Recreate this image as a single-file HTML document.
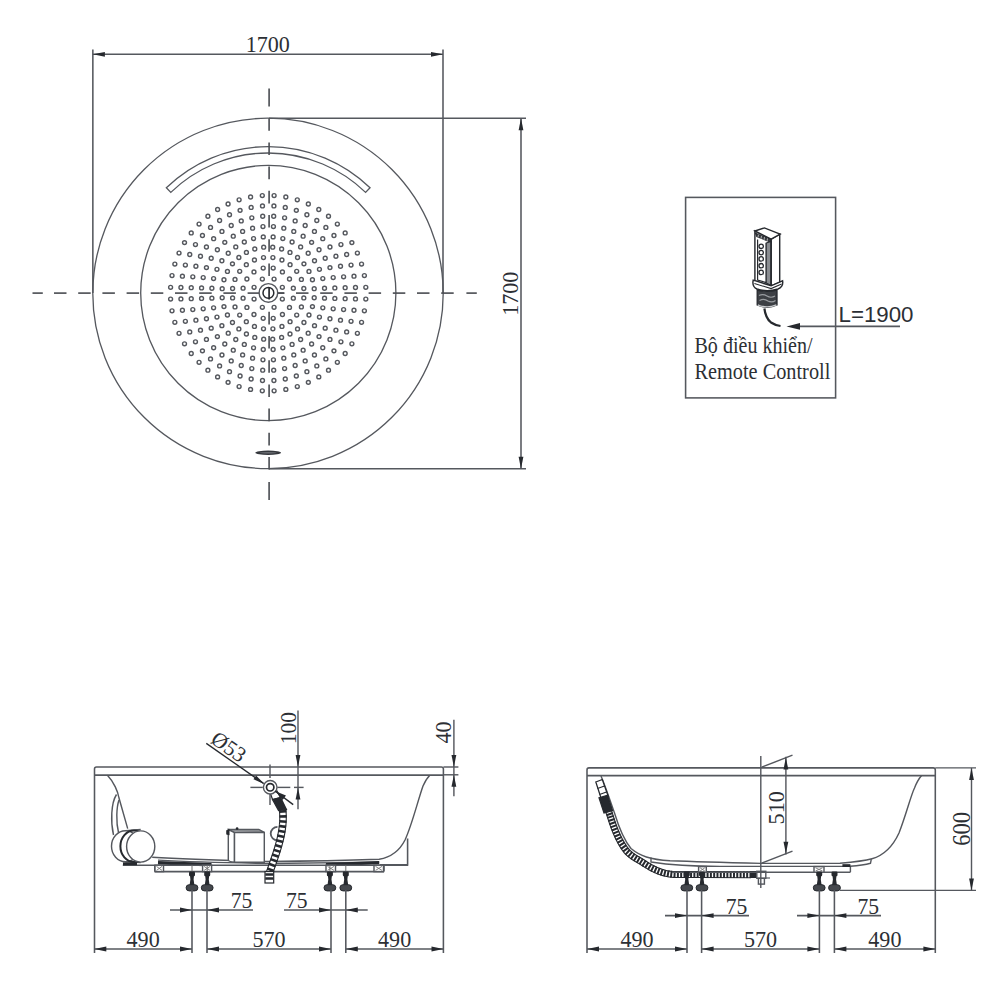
<!DOCTYPE html>
<html><head><meta charset="utf-8"><style>
html,body{margin:0;padding:0;background:#fff;}
svg{display:block;}
</style></head><body>
<svg width="1000" height="1000" viewBox="0 0 1000 1000">
<rect width="1000" height="1000" fill="#fff"/>
<line x1="92.85" y1="49.50" x2="92.85" y2="293.00" stroke="#55585e" stroke-width="1.56"/>
<line x1="443.00" y1="49.50" x2="443.00" y2="293.00" stroke="#55585e" stroke-width="1.56"/>
<line x1="92.85" y1="54.30" x2="443.00" y2="54.30" stroke="#55585e" stroke-width="1.56"/>
<polygon points="92.85,54.30 104.85,51.90 104.85,56.70" fill="#26292e"/>
<polygon points="443.00,54.30 431.00,56.70 431.00,51.90" fill="#26292e"/>
<text x="267.80" y="52.00" font-family="&quot;Liberation Serif&quot;, serif" font-size="23.19" text-anchor="middle" fill="#2c2f34" textLength="44.15" lengthAdjust="spacingAndGlyphs">1700</text>
<line x1="269.00" y1="118.20" x2="526.00" y2="118.20" stroke="#55585e" stroke-width="1.56"/>
<line x1="269.00" y1="468.80" x2="526.00" y2="468.80" stroke="#55585e" stroke-width="1.56"/>
<line x1="521.00" y1="118.20" x2="521.00" y2="468.80" stroke="#55585e" stroke-width="1.56"/>
<polygon points="521.00,118.20 523.40,130.20 518.60,130.20" fill="#26292e"/>
<polygon points="521.00,468.80 518.60,456.80 523.40,456.80" fill="#26292e"/>
<text x="517.70" y="293.80" font-family="&quot;Liberation Serif&quot;, serif" font-size="23.18" text-anchor="middle" fill="#2c2f34" textLength="44.1" lengthAdjust="spacingAndGlyphs" transform="rotate(-90 517.70 293.80)">1700</text>
<circle cx="268.0" cy="293.4" r="175.2" fill="none" stroke="#55585e" stroke-width="1.32"/>
<circle cx="268.3" cy="293.0" r="127.6" fill="none" stroke="#55585e" stroke-width="1.32"/>
<path d="M166.36,187.74 A146.6,146.6 0 0 1 370.04,187.74 L365.59,192.35 A140.2,140.2 0 0 0 170.81,192.35 Z" stroke="#55585e" stroke-width="1.32" fill="none"/>
<line x1="32.50" y1="293.10" x2="42.80" y2="293.10" stroke="#4b4e53" stroke-width="1.62"/>
<line x1="54.00" y1="293.10" x2="66.50" y2="293.10" stroke="#4b4e53" stroke-width="1.62"/>
<line x1="78.20" y1="293.10" x2="90.70" y2="293.10" stroke="#4b4e53" stroke-width="1.62"/>
<line x1="102.40" y1="293.10" x2="114.90" y2="293.10" stroke="#4b4e53" stroke-width="1.62"/>
<line x1="126.60" y1="293.10" x2="139.10" y2="293.10" stroke="#4b4e53" stroke-width="1.62"/>
<line x1="150.80" y1="293.10" x2="163.30" y2="293.10" stroke="#4b4e53" stroke-width="1.62"/>
<line x1="175.00" y1="293.10" x2="187.50" y2="293.10" stroke="#4b4e53" stroke-width="1.62"/>
<line x1="199.20" y1="293.10" x2="211.70" y2="293.10" stroke="#4b4e53" stroke-width="1.62"/>
<line x1="223.40" y1="293.10" x2="235.90" y2="293.10" stroke="#4b4e53" stroke-width="1.62"/>
<line x1="247.60" y1="293.10" x2="260.10" y2="293.10" stroke="#4b4e53" stroke-width="1.62"/>
<line x1="271.80" y1="293.10" x2="284.30" y2="293.10" stroke="#4b4e53" stroke-width="1.62"/>
<line x1="296.00" y1="293.10" x2="308.50" y2="293.10" stroke="#4b4e53" stroke-width="1.62"/>
<line x1="320.20" y1="293.10" x2="332.70" y2="293.10" stroke="#4b4e53" stroke-width="1.62"/>
<line x1="344.40" y1="293.10" x2="356.90" y2="293.10" stroke="#4b4e53" stroke-width="1.62"/>
<line x1="368.60" y1="293.10" x2="381.10" y2="293.10" stroke="#4b4e53" stroke-width="1.62"/>
<line x1="392.80" y1="293.10" x2="405.30" y2="293.10" stroke="#4b4e53" stroke-width="1.62"/>
<line x1="417.00" y1="293.10" x2="429.50" y2="293.10" stroke="#4b4e53" stroke-width="1.62"/>
<line x1="441.20" y1="293.10" x2="453.70" y2="293.10" stroke="#4b4e53" stroke-width="1.62"/>
<line x1="466.40" y1="293.10" x2="476.80" y2="293.10" stroke="#4b4e53" stroke-width="1.62"/>
<line x1="269.10" y1="88.40" x2="269.10" y2="106.60" stroke="#4b4e53" stroke-width="1.62"/>
<line x1="269.10" y1="118.20" x2="269.10" y2="130.80" stroke="#4b4e53" stroke-width="1.62"/>
<line x1="269.10" y1="142.40" x2="269.10" y2="155.00" stroke="#4b4e53" stroke-width="1.62"/>
<line x1="269.10" y1="166.60" x2="269.10" y2="179.20" stroke="#4b4e53" stroke-width="1.62"/>
<line x1="269.10" y1="190.80" x2="269.10" y2="203.40" stroke="#4b4e53" stroke-width="1.62"/>
<line x1="269.10" y1="215.00" x2="269.10" y2="227.60" stroke="#4b4e53" stroke-width="1.62"/>
<line x1="269.10" y1="239.20" x2="269.10" y2="251.80" stroke="#4b4e53" stroke-width="1.62"/>
<line x1="269.10" y1="263.40" x2="269.10" y2="276.00" stroke="#4b4e53" stroke-width="1.62"/>
<line x1="269.10" y1="287.60" x2="269.10" y2="300.20" stroke="#4b4e53" stroke-width="1.62"/>
<line x1="269.10" y1="311.80" x2="269.10" y2="324.40" stroke="#4b4e53" stroke-width="1.62"/>
<line x1="269.10" y1="336.00" x2="269.10" y2="348.60" stroke="#4b4e53" stroke-width="1.62"/>
<line x1="269.10" y1="360.20" x2="269.10" y2="372.80" stroke="#4b4e53" stroke-width="1.62"/>
<line x1="269.10" y1="384.40" x2="269.10" y2="397.00" stroke="#4b4e53" stroke-width="1.62"/>
<line x1="269.10" y1="408.60" x2="269.10" y2="421.20" stroke="#4b4e53" stroke-width="1.62"/>
<line x1="269.10" y1="432.80" x2="269.10" y2="445.40" stroke="#4b4e53" stroke-width="1.62"/>
<line x1="269.10" y1="457.00" x2="269.10" y2="469.60" stroke="#4b4e53" stroke-width="1.62"/>
<line x1="269.10" y1="482.00" x2="269.10" y2="500.00" stroke="#4b4e53" stroke-width="1.62"/>
<g fill="none" stroke="#55585e" stroke-width="1.43"><circle cx="274.06" cy="279.06" r="1.95"/><circle cx="282.34" cy="287.34" r="1.95"/><circle cx="282.34" cy="299.06" r="1.95"/><circle cx="274.06" cy="307.34" r="1.95"/><circle cx="262.34" cy="307.34" r="1.95"/><circle cx="254.06" cy="299.06" r="1.95"/><circle cx="254.06" cy="287.34" r="1.95"/><circle cx="262.34" cy="279.06" r="1.95"/><circle cx="273.20" cy="268.08" r="1.95"/><circle cx="282.43" cy="271.91" r="1.95"/><circle cx="289.49" cy="278.97" r="1.95"/><circle cx="293.32" cy="288.20" r="1.95"/><circle cx="293.32" cy="298.20" r="1.95"/><circle cx="289.49" cy="307.43" r="1.95"/><circle cx="282.43" cy="314.49" r="1.95"/><circle cx="273.20" cy="318.32" r="1.95"/><circle cx="263.20" cy="318.32" r="1.95"/><circle cx="253.97" cy="314.49" r="1.95"/><circle cx="246.91" cy="307.43" r="1.95"/><circle cx="243.08" cy="298.20" r="1.95"/><circle cx="243.08" cy="288.20" r="1.95"/><circle cx="246.91" cy="278.97" r="1.95"/><circle cx="253.97" cy="271.91" r="1.95"/><circle cx="263.20" cy="268.08" r="1.95"/><circle cx="272.89" cy="257.59" r="1.95"/><circle cx="281.95" cy="260.01" r="1.95"/><circle cx="290.07" cy="264.70" r="1.95"/><circle cx="296.70" cy="271.33" r="1.95"/><circle cx="301.39" cy="279.45" r="1.95"/><circle cx="303.81" cy="288.51" r="1.95"/><circle cx="303.81" cy="297.89" r="1.95"/><circle cx="301.39" cy="306.95" r="1.95"/><circle cx="296.70" cy="315.07" r="1.95"/><circle cx="290.07" cy="321.70" r="1.95"/><circle cx="281.95" cy="326.39" r="1.95"/><circle cx="272.89" cy="328.81" r="1.95"/><circle cx="263.51" cy="328.81" r="1.95"/><circle cx="254.45" cy="326.39" r="1.95"/><circle cx="246.33" cy="321.70" r="1.95"/><circle cx="239.70" cy="315.07" r="1.95"/><circle cx="235.01" cy="306.95" r="1.95"/><circle cx="232.59" cy="297.89" r="1.95"/><circle cx="232.59" cy="288.51" r="1.95"/><circle cx="235.01" cy="279.45" r="1.95"/><circle cx="239.70" cy="271.33" r="1.95"/><circle cx="246.33" cy="264.70" r="1.95"/><circle cx="254.45" cy="260.01" r="1.95"/><circle cx="263.51" cy="257.59" r="1.95"/><circle cx="272.73" cy="247.19" r="1.95"/><circle cx="281.62" cy="248.96" r="1.95"/><circle cx="289.99" cy="252.43" r="1.95"/><circle cx="297.53" cy="257.46" r="1.95"/><circle cx="303.94" cy="263.87" r="1.95"/><circle cx="308.97" cy="271.41" r="1.95"/><circle cx="312.44" cy="279.78" r="1.95"/><circle cx="314.21" cy="288.67" r="1.95"/><circle cx="314.21" cy="297.73" r="1.95"/><circle cx="312.44" cy="306.62" r="1.95"/><circle cx="308.97" cy="314.99" r="1.95"/><circle cx="303.94" cy="322.53" r="1.95"/><circle cx="297.53" cy="328.94" r="1.95"/><circle cx="289.99" cy="333.97" r="1.95"/><circle cx="281.62" cy="337.44" r="1.95"/><circle cx="272.73" cy="339.21" r="1.95"/><circle cx="263.67" cy="339.21" r="1.95"/><circle cx="254.78" cy="337.44" r="1.95"/><circle cx="246.41" cy="333.97" r="1.95"/><circle cx="238.87" cy="328.94" r="1.95"/><circle cx="232.46" cy="322.53" r="1.95"/><circle cx="227.43" cy="314.99" r="1.95"/><circle cx="223.96" cy="306.62" r="1.95"/><circle cx="222.19" cy="297.73" r="1.95"/><circle cx="222.19" cy="288.67" r="1.95"/><circle cx="223.96" cy="279.78" r="1.95"/><circle cx="227.43" cy="271.41" r="1.95"/><circle cx="232.46" cy="263.87" r="1.95"/><circle cx="238.87" cy="257.46" r="1.95"/><circle cx="246.41" cy="252.43" r="1.95"/><circle cx="254.78" cy="248.96" r="1.95"/><circle cx="263.67" cy="247.19" r="1.95"/><circle cx="273.13" cy="236.88" r="1.95"/><circle cx="282.83" cy="238.59" r="1.95"/><circle cx="292.09" cy="241.96" r="1.95"/><circle cx="300.63" cy="246.89" r="1.95"/><circle cx="308.18" cy="253.22" r="1.95"/><circle cx="314.51" cy="260.77" r="1.95"/><circle cx="319.44" cy="269.31" r="1.95"/><circle cx="322.81" cy="278.57" r="1.95"/><circle cx="324.52" cy="288.27" r="1.95"/><circle cx="324.52" cy="298.13" r="1.95"/><circle cx="322.81" cy="307.83" r="1.95"/><circle cx="319.44" cy="317.09" r="1.95"/><circle cx="314.51" cy="325.63" r="1.95"/><circle cx="308.18" cy="333.18" r="1.95"/><circle cx="300.63" cy="339.51" r="1.95"/><circle cx="292.09" cy="344.44" r="1.95"/><circle cx="282.83" cy="347.81" r="1.95"/><circle cx="273.13" cy="349.52" r="1.95"/><circle cx="263.27" cy="349.52" r="1.95"/><circle cx="253.57" cy="347.81" r="1.95"/><circle cx="244.31" cy="344.44" r="1.95"/><circle cx="235.77" cy="339.51" r="1.95"/><circle cx="228.22" cy="333.18" r="1.95"/><circle cx="221.89" cy="325.63" r="1.95"/><circle cx="216.96" cy="317.09" r="1.95"/><circle cx="213.59" cy="307.83" r="1.95"/><circle cx="211.88" cy="298.13" r="1.95"/><circle cx="211.88" cy="288.27" r="1.95"/><circle cx="213.59" cy="278.57" r="1.95"/><circle cx="216.96" cy="269.31" r="1.95"/><circle cx="221.89" cy="260.77" r="1.95"/><circle cx="228.22" cy="253.22" r="1.95"/><circle cx="235.77" cy="246.89" r="1.95"/><circle cx="244.31" cy="241.96" r="1.95"/><circle cx="253.57" cy="238.59" r="1.95"/><circle cx="263.27" cy="236.88" r="1.95"/><circle cx="273.44" cy="226.56" r="1.95"/><circle cx="283.81" cy="228.20" r="1.95"/><circle cx="293.78" cy="231.44" r="1.95"/><circle cx="303.13" cy="236.20" r="1.95"/><circle cx="311.62" cy="242.37" r="1.95"/><circle cx="319.03" cy="249.78" r="1.95"/><circle cx="325.20" cy="258.27" r="1.95"/><circle cx="329.96" cy="267.62" r="1.95"/><circle cx="333.20" cy="277.59" r="1.95"/><circle cx="334.84" cy="287.96" r="1.95"/><circle cx="334.84" cy="298.44" r="1.95"/><circle cx="333.20" cy="308.81" r="1.95"/><circle cx="329.96" cy="318.78" r="1.95"/><circle cx="325.20" cy="328.13" r="1.95"/><circle cx="319.03" cy="336.62" r="1.95"/><circle cx="311.62" cy="344.03" r="1.95"/><circle cx="303.13" cy="350.20" r="1.95"/><circle cx="293.78" cy="354.96" r="1.95"/><circle cx="283.81" cy="358.20" r="1.95"/><circle cx="273.44" cy="359.84" r="1.95"/><circle cx="262.96" cy="359.84" r="1.95"/><circle cx="252.59" cy="358.20" r="1.95"/><circle cx="242.62" cy="354.96" r="1.95"/><circle cx="233.27" cy="350.20" r="1.95"/><circle cx="224.78" cy="344.03" r="1.95"/><circle cx="217.37" cy="336.62" r="1.95"/><circle cx="211.20" cy="328.13" r="1.95"/><circle cx="206.44" cy="318.78" r="1.95"/><circle cx="203.20" cy="308.81" r="1.95"/><circle cx="201.56" cy="298.44" r="1.95"/><circle cx="201.56" cy="287.96" r="1.95"/><circle cx="203.20" cy="277.59" r="1.95"/><circle cx="206.44" cy="267.62" r="1.95"/><circle cx="211.20" cy="258.27" r="1.95"/><circle cx="217.37" cy="249.78" r="1.95"/><circle cx="224.78" cy="242.37" r="1.95"/><circle cx="233.27" cy="236.20" r="1.95"/><circle cx="242.62" cy="231.44" r="1.95"/><circle cx="252.59" cy="228.20" r="1.95"/><circle cx="262.96" cy="226.56" r="1.95"/><circle cx="273.70" cy="216.24" r="1.95"/><circle cx="284.60" cy="217.80" r="1.95"/><circle cx="295.16" cy="220.90" r="1.95"/><circle cx="305.18" cy="225.48" r="1.95"/><circle cx="314.44" cy="231.43" r="1.95"/><circle cx="322.76" cy="238.64" r="1.95"/><circle cx="329.97" cy="246.96" r="1.95"/><circle cx="335.92" cy="256.22" r="1.95"/><circle cx="340.50" cy="266.24" r="1.95"/><circle cx="343.60" cy="276.80" r="1.95"/><circle cx="345.16" cy="287.70" r="1.95"/><circle cx="345.16" cy="298.70" r="1.95"/><circle cx="343.60" cy="309.60" r="1.95"/><circle cx="340.50" cy="320.16" r="1.95"/><circle cx="335.92" cy="330.18" r="1.95"/><circle cx="329.97" cy="339.44" r="1.95"/><circle cx="322.76" cy="347.76" r="1.95"/><circle cx="314.44" cy="354.97" r="1.95"/><circle cx="305.18" cy="360.92" r="1.95"/><circle cx="295.16" cy="365.50" r="1.95"/><circle cx="284.60" cy="368.60" r="1.95"/><circle cx="273.70" cy="370.16" r="1.95"/><circle cx="262.70" cy="370.16" r="1.95"/><circle cx="251.80" cy="368.60" r="1.95"/><circle cx="241.24" cy="365.50" r="1.95"/><circle cx="231.22" cy="360.92" r="1.95"/><circle cx="221.96" cy="354.97" r="1.95"/><circle cx="213.64" cy="347.76" r="1.95"/><circle cx="206.43" cy="339.44" r="1.95"/><circle cx="200.48" cy="330.18" r="1.95"/><circle cx="195.90" cy="320.16" r="1.95"/><circle cx="192.80" cy="309.60" r="1.95"/><circle cx="191.24" cy="298.70" r="1.95"/><circle cx="191.24" cy="287.70" r="1.95"/><circle cx="192.80" cy="276.80" r="1.95"/><circle cx="195.90" cy="266.24" r="1.95"/><circle cx="200.48" cy="256.22" r="1.95"/><circle cx="206.43" cy="246.96" r="1.95"/><circle cx="213.64" cy="238.64" r="1.95"/><circle cx="221.96" cy="231.43" r="1.95"/><circle cx="231.22" cy="225.48" r="1.95"/><circle cx="241.24" cy="220.90" r="1.95"/><circle cx="251.80" cy="217.80" r="1.95"/><circle cx="262.70" cy="216.24" r="1.95"/><circle cx="273.92" cy="205.92" r="1.95"/><circle cx="285.26" cy="207.41" r="1.95"/><circle cx="296.32" cy="210.37" r="1.95"/><circle cx="306.89" cy="214.75" r="1.95"/><circle cx="316.80" cy="220.47" r="1.95"/><circle cx="325.87" cy="227.44" r="1.95"/><circle cx="333.96" cy="235.53" r="1.95"/><circle cx="340.93" cy="244.60" r="1.95"/><circle cx="346.65" cy="254.51" r="1.95"/><circle cx="351.03" cy="265.08" r="1.95"/><circle cx="353.99" cy="276.14" r="1.95"/><circle cx="355.48" cy="287.48" r="1.95"/><circle cx="355.48" cy="298.92" r="1.95"/><circle cx="353.99" cy="310.26" r="1.95"/><circle cx="351.03" cy="321.32" r="1.95"/><circle cx="346.65" cy="331.89" r="1.95"/><circle cx="340.93" cy="341.80" r="1.95"/><circle cx="333.96" cy="350.87" r="1.95"/><circle cx="325.87" cy="358.96" r="1.95"/><circle cx="316.80" cy="365.93" r="1.95"/><circle cx="306.89" cy="371.65" r="1.95"/><circle cx="296.32" cy="376.03" r="1.95"/><circle cx="285.26" cy="378.99" r="1.95"/><circle cx="273.92" cy="380.48" r="1.95"/><circle cx="262.48" cy="380.48" r="1.95"/><circle cx="251.14" cy="378.99" r="1.95"/><circle cx="240.08" cy="376.03" r="1.95"/><circle cx="229.51" cy="371.65" r="1.95"/><circle cx="219.60" cy="365.93" r="1.95"/><circle cx="210.53" cy="358.96" r="1.95"/><circle cx="202.44" cy="350.87" r="1.95"/><circle cx="195.47" cy="341.80" r="1.95"/><circle cx="189.75" cy="331.89" r="1.95"/><circle cx="185.37" cy="321.32" r="1.95"/><circle cx="182.41" cy="310.26" r="1.95"/><circle cx="180.92" cy="298.92" r="1.95"/><circle cx="180.92" cy="287.48" r="1.95"/><circle cx="182.41" cy="276.14" r="1.95"/><circle cx="185.37" cy="265.08" r="1.95"/><circle cx="189.75" cy="254.51" r="1.95"/><circle cx="195.47" cy="244.60" r="1.95"/><circle cx="202.44" cy="235.53" r="1.95"/><circle cx="210.53" cy="227.44" r="1.95"/><circle cx="219.60" cy="220.47" r="1.95"/><circle cx="229.51" cy="214.75" r="1.95"/><circle cx="240.08" cy="210.37" r="1.95"/><circle cx="251.14" cy="207.41" r="1.95"/><circle cx="262.48" cy="205.92" r="1.95"/><circle cx="274.10" cy="195.60" r="1.95"/><circle cx="285.83" cy="197.02" r="1.95"/><circle cx="297.29" cy="199.85" r="1.95"/><circle cx="308.33" cy="204.03" r="1.95"/><circle cx="318.79" cy="209.52" r="1.95"/><circle cx="328.50" cy="216.23" r="1.95"/><circle cx="337.34" cy="224.06" r="1.95"/><circle cx="345.17" cy="232.90" r="1.95"/><circle cx="351.88" cy="242.61" r="1.95"/><circle cx="357.37" cy="253.07" r="1.95"/><circle cx="361.55" cy="264.11" r="1.95"/><circle cx="364.38" cy="275.57" r="1.95"/><circle cx="365.80" cy="287.30" r="1.95"/><circle cx="365.80" cy="299.10" r="1.95"/><circle cx="364.38" cy="310.83" r="1.95"/><circle cx="361.55" cy="322.29" r="1.95"/><circle cx="357.37" cy="333.33" r="1.95"/><circle cx="351.88" cy="343.79" r="1.95"/><circle cx="345.17" cy="353.50" r="1.95"/><circle cx="337.34" cy="362.34" r="1.95"/><circle cx="328.50" cy="370.17" r="1.95"/><circle cx="318.79" cy="376.88" r="1.95"/><circle cx="308.33" cy="382.37" r="1.95"/><circle cx="297.29" cy="386.55" r="1.95"/><circle cx="285.83" cy="389.38" r="1.95"/><circle cx="274.10" cy="390.80" r="1.95"/><circle cx="262.30" cy="390.80" r="1.95"/><circle cx="250.57" cy="389.38" r="1.95"/><circle cx="239.11" cy="386.55" r="1.95"/><circle cx="228.07" cy="382.37" r="1.95"/><circle cx="217.61" cy="376.88" r="1.95"/><circle cx="207.90" cy="370.17" r="1.95"/><circle cx="199.06" cy="362.34" r="1.95"/><circle cx="191.23" cy="353.50" r="1.95"/><circle cx="184.52" cy="343.79" r="1.95"/><circle cx="179.03" cy="333.33" r="1.95"/><circle cx="174.85" cy="322.29" r="1.95"/><circle cx="172.02" cy="310.83" r="1.95"/><circle cx="170.60" cy="299.10" r="1.95"/><circle cx="170.60" cy="287.30" r="1.95"/><circle cx="172.02" cy="275.57" r="1.95"/><circle cx="174.85" cy="264.11" r="1.95"/><circle cx="179.03" cy="253.07" r="1.95"/><circle cx="184.52" cy="242.61" r="1.95"/><circle cx="191.23" cy="232.90" r="1.95"/><circle cx="199.06" cy="224.06" r="1.95"/><circle cx="207.90" cy="216.23" r="1.95"/><circle cx="217.61" cy="209.52" r="1.95"/><circle cx="228.07" cy="204.03" r="1.95"/><circle cx="239.11" cy="199.85" r="1.95"/><circle cx="250.57" cy="197.02" r="1.95"/><circle cx="262.30" cy="195.60" r="1.95"/></g>
<circle cx="268.4" cy="292.9" r="9.3" fill="#fff" stroke="#55585e" stroke-width="1.43"/>
<circle cx="268.4" cy="292.9" r="5.4" fill="none" stroke="#26292e" stroke-width="1.5"/>
<line x1="269.10" y1="287.50" x2="269.10" y2="299.50" stroke="#26292e" stroke-width="1.69"/>
<line x1="277.80" y1="293.10" x2="284.30" y2="293.10" stroke="#4b4e53" stroke-width="1.62"/>
<ellipse cx="268.2" cy="452.8" rx="12.8" ry="2.2" fill="#34373c"/>
<ellipse cx="268.2" cy="452.8" rx="8.5" ry="0.8" fill="#6a6d72"/>
<rect x="685.6" y="197.4" width="150" height="200.5" fill="none" stroke="#55585e" stroke-width="1.56"/>
<text x="694.50" y="352.70" font-family="&quot;Liberation Serif&quot;, serif" font-size="22.80" text-anchor="start" fill="#2c2f34" textLength="118" lengthAdjust="spacingAndGlyphs">Bộ điều khiển/</text>
<text x="694.50" y="378.90" font-family="&quot;Liberation Serif&quot;, serif" font-size="22.80" text-anchor="start" fill="#2c2f34" textLength="135.8" lengthAdjust="spacingAndGlyphs">Remote Controll</text>
<text x="838.50" y="322.00" font-family="&quot;Liberation Sans&quot;, sans-serif" font-size="22.30" text-anchor="start" fill="#2c2f34">L=1900</text>
<line x1="795.00" y1="326.40" x2="900.00" y2="326.40" stroke="#55585e" stroke-width="1.56"/>
<polygon points="786.50,326.40 800.00,323.10 800.00,329.70" fill="#26292e"/>
<path d="M754.9,231 L754.9,281 L771.1,286 L779.7,282.5 L779.7,234.2 L771.1,239.1 Z" stroke="#26292e" stroke-width="1.43" fill="#fff"/>
<path d="M754.9,231 L764.4,227.9 L780.1,234.2 L771.1,239.1 Z" stroke="#26292e" stroke-width="1.43" fill="#fff"/>
<path d="M755.5,233.2 L770.8,239.6 L770.8,242.2 L756.8,236.6 Z" stroke="#26292e" stroke-width="1.04" fill="#3a3d42"/>
<line x1="758.50" y1="234.60" x2="758.00" y2="237.50" stroke="#bbb" stroke-width="0.91"/>
<line x1="761.50" y1="235.90" x2="761.00" y2="238.80" stroke="#bbb" stroke-width="0.91"/>
<line x1="764.50" y1="237.10" x2="764.00" y2="240.00" stroke="#bbb" stroke-width="0.91"/>
<line x1="767.50" y1="238.40" x2="767.00" y2="241.30" stroke="#bbb" stroke-width="0.91"/>
<path d="M757.6,239.6 L757.6,280 L766.2,282.6 L766.2,243" stroke="#26292e" stroke-width="1.17" fill="none"/>
<path d="M766.2,243 L771.1,241.5 L771.1,285.5 L766.2,283 Z" stroke="#26292e" stroke-width="1.04" fill="#8a8d91"/>
<line x1="771.10" y1="239.10" x2="771.10" y2="286.00" stroke="#26292e" stroke-width="1.69"/>
<circle cx="761.2" cy="246.3" r="2.2" fill="#fff" stroke="#26292e" stroke-width="1.3"/>
<circle cx="761.2" cy="252.6" r="2.2" fill="#fff" stroke="#26292e" stroke-width="1.3"/>
<circle cx="761.2" cy="258.9" r="2.2" fill="#fff" stroke="#26292e" stroke-width="1.3"/>
<circle cx="761.2" cy="265.7" r="2.2" fill="#fff" stroke="#26292e" stroke-width="1.3"/>
<circle cx="761.2" cy="272.4" r="2.2" fill="#fff" stroke="#26292e" stroke-width="1.3"/>
<path d="M753.2,280.2 Q751.8,286.5 757,289 Q767,292.5 778,289 Q783.6,286.8 782.6,280.8 L771.1,285.8 L754.9,280.6 Z" stroke="#26292e" stroke-width="1.43" fill="#fff"/>
<path d="M754.4,283.5 L771.1,288.6 L781.6,284" stroke="#26292e" stroke-width="1.04" fill="none"/>
<path d="M757.2,290 L757.2,305 Q767,309.5 777,305 L777,290 Q767,292.5 757.2,290 Z" stroke="#26292e" stroke-width="1.30" fill="#3c3f44"/>
<path d="M759,295.5 Q763,293.5 767,296 Q771,298.5 775,296 M759.5,300.5 Q764,298 768,301 Q772,303 775.5,300.5" stroke="#9a9da1" stroke-width="1.17" fill="none"/>
<path d="M757.8,304.8 Q767,309 776.4,304.8" stroke="#c9cbce" stroke-width="1.30" fill="none"/>
<path d="M764.4,308.5 Q765.5,318 771,322.5 Q775,325.2 780.5,326" stroke="#26292e" stroke-width="2.21" fill="none"/>
<path d="M94.5,953 L94.5,769 Q94.5,767 96.5,767 L441.3,767 Q443.4,767 443.4,769 L443.4,953" stroke="#55585e" stroke-width="1.56" fill="none"/>
<line x1="94.50" y1="775.10" x2="443.40" y2="775.10" stroke="#55585e" stroke-width="1.56"/>
<line x1="443.40" y1="767.00" x2="458.40" y2="767.00" stroke="#55585e" stroke-width="1.43"/>
<line x1="443.40" y1="774.80" x2="458.40" y2="774.80" stroke="#55585e" stroke-width="1.43"/>
<path d="M107.4,775.2 C114,782 118,792 119,798 L127.7,828.6" stroke="#55585e" stroke-width="1.43" fill="none"/>
<path d="M116.5,794.5 C111,803 110.5,822 113.5,835" stroke="#55585e" stroke-width="1.43" fill="none"/>
<path d="M119,800 C116.5,807 115.8,822 118.6,833" stroke="#55585e" stroke-width="1.43" fill="none"/>
<path d="M125.5,830.8 L140.7,829.5 M125.5,861.8 L140.7,862.5" stroke="#55585e" stroke-width="1.43" fill="none"/>
<ellipse cx="125.5" cy="846.3" rx="14" ry="15.5" fill="#fff" stroke="#55585e" stroke-width="1.43"/>
<ellipse cx="134" cy="846.2" rx="13.6" ry="15.8" fill="none" stroke="#26292e" stroke-width="2.0"/>
<ellipse cx="140.7" cy="846.5" rx="14.1" ry="15.6" fill="#fff" stroke="#55585e" stroke-width="1.43"/>
<path d="M152.2,857.2 Q190,859.5 269,861.5 Q330,861 379.2,859.3 C392,857 400,850 405,840 C412,825 418,800 423,786 Q426,779 429.6,775.4" stroke="#55585e" stroke-width="1.43" fill="none"/>
<path d="M158,860.2 Q200,862.5 269,863.5 Q330,863 379.2,862.2" stroke="#55585e" stroke-width="1.30" fill="none"/>
<path d="M158,862.8 L211.5,864.8" stroke="#26292e" stroke-width="3.38" fill="none"/>
<path d="M326,864.8 L379.2,862.6" stroke="#26292e" stroke-width="3.38" fill="none"/>
<path d="M407.6,838.6 L407.6,864.9 L380,864.9" stroke="#55585e" stroke-width="1.56" fill="none"/>
<line x1="122.80" y1="865.20" x2="408.00" y2="865.20" stroke="#55585e" stroke-width="1.56"/>
<line x1="154.80" y1="871.60" x2="384.00" y2="871.60" stroke="#55585e" stroke-width="1.56"/>
<line x1="154.80" y1="865.20" x2="154.80" y2="871.60" stroke="#55585e" stroke-width="1.56"/>
<line x1="384.00" y1="865.20" x2="384.00" y2="871.60" stroke="#55585e" stroke-width="1.56"/>
<path d="M123,863.8 L137,863.8" stroke="#26292e" stroke-width="2.86" fill="none"/>
<rect x="155.00" y="865.20" width="8.50" height="6.40" fill="#fff" stroke="#55585e" stroke-width="1.43"/>
<path d="M156.50,866.40 L162.00,870.40 M162.00,866.40 L156.50,870.40" stroke="#777" stroke-width="0.91" fill="none"/>
<rect x="202.60" y="865.20" width="9.00" height="6.40" fill="#fff" stroke="#55585e" stroke-width="1.43"/>
<path d="M204.10,866.40 L210.10,870.40 M210.10,866.40 L204.10,870.40" stroke="#777" stroke-width="0.91" fill="none"/>
<rect x="326.00" y="865.20" width="9.50" height="6.40" fill="#fff" stroke="#55585e" stroke-width="1.43"/>
<path d="M327.50,866.40 L334.00,870.40 M334.00,866.40 L327.50,870.40" stroke="#777" stroke-width="0.91" fill="none"/>
<rect x="374.00" y="865.20" width="9.50" height="6.40" fill="#fff" stroke="#55585e" stroke-width="1.43"/>
<path d="M375.50,866.40 L382.00,870.40 M382.00,866.40 L375.50,870.40" stroke="#777" stroke-width="0.91" fill="none"/>
<line x1="192.00" y1="865.50" x2="192.00" y2="871.50" stroke="#777" stroke-width="1.04"/>
<rect x="189.00" y="871.50" width="6.0" height="4.8" rx="1.2" fill="#26292e"/>
<path d="M190.00,875.50 L194.00,875.50 L193.60,879.50 L194.40,885.00 L189.60,885.00 L190.40,879.50 Z" fill="#26292e"/>
<rect x="186.10" y="884.70" width="11.8" height="6.2" rx="3.1" fill="#45484d" stroke="#26292e" stroke-width="1"/>
<line x1="207.20" y1="865.50" x2="207.20" y2="871.50" stroke="#777" stroke-width="1.04"/>
<rect x="204.20" y="871.50" width="6.0" height="4.8" rx="1.2" fill="#26292e"/>
<path d="M205.20,875.50 L209.20,875.50 L208.80,879.50 L209.60,885.00 L204.80,885.00 L205.60,879.50 Z" fill="#26292e"/>
<rect x="201.30" y="884.70" width="11.8" height="6.2" rx="3.1" fill="#45484d" stroke="#26292e" stroke-width="1"/>
<line x1="329.90" y1="865.50" x2="329.90" y2="871.50" stroke="#777" stroke-width="1.04"/>
<rect x="326.90" y="871.50" width="6.0" height="4.8" rx="1.2" fill="#26292e"/>
<path d="M327.90,875.50 L331.90,875.50 L331.50,879.50 L332.30,885.00 L327.50,885.00 L328.30,879.50 Z" fill="#26292e"/>
<rect x="324.00" y="884.70" width="11.8" height="6.2" rx="3.1" fill="#45484d" stroke="#26292e" stroke-width="1"/>
<line x1="345.80" y1="865.50" x2="345.80" y2="871.50" stroke="#777" stroke-width="1.04"/>
<rect x="342.80" y="871.50" width="6.0" height="4.8" rx="1.2" fill="#26292e"/>
<path d="M343.80,875.50 L347.80,875.50 L347.40,879.50 L348.20,885.00 L343.40,885.00 L344.20,879.50 Z" fill="#26292e"/>
<rect x="339.90" y="884.70" width="11.8" height="6.2" rx="3.1" fill="#45484d" stroke="#26292e" stroke-width="1"/>
<path d="M228.3,829.5 L258.8,829.5 L264.3,832.4 L234.5,832.6 Z" stroke="#55585e" stroke-width="1.30" fill="#9a9ca0"/>
<path d="M228.3,829.5 L228.3,859.8 Q228.5,861.8 234.5,862.3 L234.5,832.6 Z" stroke="#55585e" stroke-width="1.43" fill="#fff"/>
<path d="M234.5,832.6 L264.3,832.4 L264.3,862.3 L234.5,862.3 Z" stroke="#55585e" stroke-width="1.43" fill="#fff"/>
<path d="M226.8,830.6 L229,829.6 L229,834.6 L226.8,834 Z" stroke="#26292e" stroke-width="1.04" fill="#26292e"/>
<circle cx="237.1" cy="828.6" r="1.3" fill="#26292e"/>
<path d="M277.5,826.8 A6.8,6.8 0 0 0 277.5,840.4" stroke="#55585e" stroke-width="1.82" fill="none"/>
<path d="M282.50,809.00 L282.61,809.86 L282.70,810.73 L282.78,811.59 L282.85,812.46 L282.91,813.32 L282.95,814.19 L282.99,815.06 L283.01,815.92 L283.03,816.79 L283.03,817.66 L283.02,818.52 L283.00,819.39 L282.97,820.26 L282.93,821.12 L282.89,821.99 L282.83,822.86 L282.76,823.72 L282.69,824.59 L282.60,825.45 L282.51,826.31 L282.41,827.17 L282.30,828.04 L282.18,828.90 L282.05,829.75 L281.92,830.61 L281.78,831.47 L281.64,832.32 L281.48,833.17 L281.32,834.03 L281.16,834.88 L280.98,835.72 L280.80,836.57 L280.62,837.41 L280.43,838.25 L280.23,839.09 L280.03,839.93 L279.83,840.76 L279.62,841.59 L279.41,842.42 L279.19,843.25 L278.97,844.07 L278.74,844.89 L278.51,845.71 L278.28,846.53 L278.04,847.34 L277.80,848.15 L277.56,848.95 L277.32,849.75 L277.07,850.55 L276.82,851.34 L276.57,852.13 L276.32,852.92 L276.07,853.70 L275.81,854.48 L275.56,855.26 L275.30,856.03 L275.04,856.79 L274.79,857.55 L274.53,858.31 L274.27,859.06 L274.02,859.81 L273.76,860.55 L273.51,861.29 L273.25,862.02 L273.00,862.75 L272.75,863.47 L272.50,864.19 L272.25,864.90 L272.00,865.61 L271.76,866.31 L271.52,867.01 L271.28,867.70 L271.05,868.38 L270.81,869.06 L270.59,869.73 L270.36,870.40 L270.14,871.06 L269.92,871.71 L269.71,872.36 L269.50,873.00" stroke="#26292e" stroke-width="7.6" fill="none" stroke-linejoin="round"/>
<path d="M282.50,809.00 L282.61,809.86 L282.70,810.73 L282.78,811.59 L282.85,812.46 L282.91,813.32 L282.95,814.19 L282.99,815.06 L283.01,815.92 L283.03,816.79 L283.03,817.66 L283.02,818.52 L283.00,819.39 L282.97,820.26 L282.93,821.12 L282.89,821.99 L282.83,822.86 L282.76,823.72 L282.69,824.59 L282.60,825.45 L282.51,826.31 L282.41,827.17 L282.30,828.04 L282.18,828.90 L282.05,829.75 L281.92,830.61 L281.78,831.47 L281.64,832.32 L281.48,833.17 L281.32,834.03 L281.16,834.88 L280.98,835.72 L280.80,836.57 L280.62,837.41 L280.43,838.25 L280.23,839.09 L280.03,839.93 L279.83,840.76 L279.62,841.59 L279.41,842.42 L279.19,843.25 L278.97,844.07 L278.74,844.89 L278.51,845.71 L278.28,846.53 L278.04,847.34 L277.80,848.15 L277.56,848.95 L277.32,849.75 L277.07,850.55 L276.82,851.34 L276.57,852.13 L276.32,852.92 L276.07,853.70 L275.81,854.48 L275.56,855.26 L275.30,856.03 L275.04,856.79 L274.79,857.55 L274.53,858.31 L274.27,859.06 L274.02,859.81 L273.76,860.55 L273.51,861.29 L273.25,862.02 L273.00,862.75 L272.75,863.47 L272.50,864.19 L272.25,864.90 L272.00,865.61 L271.76,866.31 L271.52,867.01 L271.28,867.70 L271.05,868.38 L270.81,869.06 L270.59,869.73 L270.36,870.40 L270.14,871.06 L269.92,871.71 L269.71,872.36 L269.50,873.00" stroke="#fff" stroke-width="5.3999999999999995" fill="none" stroke-linejoin="round"/>
<path d="M279.19,811.82 L286.36,811.15 M279.42,816.53 L286.62,816.42 M279.32,821.28 L286.51,821.68 M278.92,826.04 L286.07,826.88 M278.24,830.83 L285.35,831.99 M277.33,835.57 L284.38,837.06 M276.23,840.31 L283.21,842.07 M274.96,845.03 L281.88,847.01 M273.55,849.73 L280.43,851.88 M272.04,854.43 L278.87,856.70 M270.44,859.13 L277.25,861.47 M268.81,863.84 L275.61,866.21 M267.17,868.60 L273.99,870.90" stroke="#26292e" stroke-width="2.6" fill="none"/>
<path d="M270.3,793.3 L276.8,790.8 L280.6,797.6 L272.6,799.6 Z" stroke="#26292e" stroke-width="1.30" fill="#fff"/>
<path d="M272.6,799.6 L280.6,797.6 L286.4,809.5 L278.6,810.6 Z" stroke="#26292e" stroke-width="1.30" fill="#26292e"/>
<rect x="265.0" y="871.5" width="8.7" height="11.5" fill="#fff" stroke="#26292e" stroke-width="1.2"/>
<path d="M265.3,874.5 L273.4,874.5 M265.3,878.5 L273.4,878.5" stroke="#26292e" stroke-width="2.47" fill="none"/>
<circle cx="270.2" cy="787.3" r="6.8" fill="#fff" stroke="#55585e" stroke-width="1.43"/>
<circle cx="270.2" cy="787.3" r="3.7" fill="none" stroke="#26292e" stroke-width="1.7"/>
<line x1="250.40" y1="787.40" x2="262.80" y2="787.40" stroke="#55585e" stroke-width="1.43"/>
<line x1="277.40" y1="787.40" x2="290.30" y2="787.40" stroke="#55585e" stroke-width="1.43"/>
<line x1="294.00" y1="787.40" x2="303.60" y2="787.40" stroke="#55585e" stroke-width="1.43"/>
<line x1="270.00" y1="764.60" x2="270.00" y2="778.00" stroke="#55585e" stroke-width="1.43"/>
<line x1="270.00" y1="793.50" x2="270.00" y2="805.00" stroke="#55585e" stroke-width="1.43"/>
<line x1="206.30" y1="743.40" x2="263.50" y2="783.40" stroke="#26292e" stroke-width="1.30"/>
<polygon points="264.60,784.20 253.45,779.20 256.09,775.43" fill="#26292e"/>
<line x1="275.00" y1="791.00" x2="293.20" y2="804.60" stroke="#26292e" stroke-width="1.43"/>
<polygon points="275.50,791.20 285.98,795.56 282.62,800.04" fill="#26292e"/>
<text x="209.50" y="742.00" font-family="&quot;Liberation Serif&quot;, serif" font-size="21.50" text-anchor="start" fill="#2c2f34" transform="rotate(35 209.50 742.00)">Ø53</text>
<line x1="298.00" y1="710.50" x2="298.00" y2="809.30" stroke="#55585e" stroke-width="1.43"/>
<polygon points="298.00,767.00 295.60,755.00 300.40,755.00" fill="#26292e"/>
<polygon points="298.00,787.40 300.40,799.40 295.60,799.40" fill="#26292e"/>
<text x="296.30" y="728.20" font-family="&quot;Liberation Serif&quot;, serif" font-size="23.05" text-anchor="middle" fill="#2c2f34" textLength="32.21" lengthAdjust="spacingAndGlyphs" transform="rotate(-90 296.30 728.20)">100</text>
<line x1="453.90" y1="719.80" x2="453.90" y2="796.30" stroke="#55585e" stroke-width="1.43"/>
<polygon points="453.90,767.00 451.50,755.00 456.30,755.00" fill="#26292e"/>
<polygon points="453.90,774.80 456.30,786.80 451.50,786.80" fill="#26292e"/>
<text x="451.40" y="732.40" font-family="&quot;Liberation Serif&quot;, serif" font-size="23.05" text-anchor="middle" fill="#2c2f34" textLength="22.15" lengthAdjust="spacingAndGlyphs" transform="rotate(-90 451.40 732.40)">40</text>
<line x1="192.00" y1="890.00" x2="192.00" y2="953.00" stroke="#55585e" stroke-width="1.56"/>
<line x1="207.00" y1="890.00" x2="207.00" y2="953.00" stroke="#55585e" stroke-width="1.56"/>
<line x1="331.00" y1="890.00" x2="331.00" y2="953.00" stroke="#55585e" stroke-width="1.56"/>
<line x1="345.80" y1="890.00" x2="345.80" y2="953.00" stroke="#55585e" stroke-width="1.56"/>
<line x1="94.30" y1="949.00" x2="192.00" y2="949.00" stroke="#55585e" stroke-width="1.56"/>
<polygon points="94.30,949.00 106.30,946.60 106.30,951.40" fill="#26292e"/>
<polygon points="192.00,949.00 180.00,951.40 180.00,946.60" fill="#26292e"/>
<line x1="207.00" y1="949.00" x2="331.00" y2="949.00" stroke="#55585e" stroke-width="1.56"/>
<polygon points="207.00,949.00 219.00,946.60 219.00,951.40" fill="#26292e"/>
<polygon points="331.00,949.00 319.00,951.40 319.00,946.60" fill="#26292e"/>
<line x1="345.80" y1="949.00" x2="443.50" y2="949.00" stroke="#55585e" stroke-width="1.56"/>
<polygon points="345.80,949.00 357.80,946.60 357.80,951.40" fill="#26292e"/>
<polygon points="443.50,949.00 431.50,951.40 431.50,946.60" fill="#26292e"/>
<text x="143.15" y="947.20" font-family="&quot;Liberation Serif&quot;, serif" font-size="23.64" text-anchor="middle" fill="#2c2f34" textLength="33.12" lengthAdjust="spacingAndGlyphs">490</text>
<text x="269.00" y="947.20" font-family="&quot;Liberation Serif&quot;, serif" font-size="23.64" text-anchor="middle" fill="#2c2f34" textLength="33.12" lengthAdjust="spacingAndGlyphs">570</text>
<text x="394.65" y="947.20" font-family="&quot;Liberation Serif&quot;, serif" font-size="23.64" text-anchor="middle" fill="#2c2f34" textLength="33.12" lengthAdjust="spacingAndGlyphs">490</text>
<line x1="170.00" y1="910.00" x2="253.00" y2="910.00" stroke="#55585e" stroke-width="1.56"/>
<polygon points="192.00,910.00 180.00,912.40 180.00,907.60" fill="#26292e"/>
<polygon points="207.00,910.00 219.00,907.60 219.00,912.40" fill="#26292e"/>
<line x1="284.00" y1="910.00" x2="367.70" y2="910.00" stroke="#55585e" stroke-width="1.56"/>
<polygon points="331.00,910.00 319.00,912.40 319.00,907.60" fill="#26292e"/>
<polygon points="345.80,910.00 357.80,907.60 357.80,912.40" fill="#26292e"/>
<text x="241.50" y="908.20" font-family="&quot;Liberation Serif&quot;, serif" font-size="23.11" text-anchor="middle" fill="#2c2f34" textLength="21.58" lengthAdjust="spacingAndGlyphs">75</text>
<text x="296.80" y="908.20" font-family="&quot;Liberation Serif&quot;, serif" font-size="23.11" text-anchor="middle" fill="#2c2f34" textLength="21.58" lengthAdjust="spacingAndGlyphs">75</text>
<path d="M587,953 L587,770 Q587,767.9 589,767.9 L933.2,767.9 Q935.3,767.9 935.3,770 L935.3,953" stroke="#55585e" stroke-width="1.56" fill="none"/>
<line x1="587.00" y1="775.60" x2="935.30" y2="775.60" stroke="#55585e" stroke-width="1.56"/>
<line x1="935.30" y1="767.90" x2="976.00" y2="767.90" stroke="#55585e" stroke-width="1.43"/>
<line x1="840.00" y1="890.40" x2="976.00" y2="890.40" stroke="#55585e" stroke-width="1.43"/>
<line x1="971.50" y1="767.90" x2="971.50" y2="890.40" stroke="#55585e" stroke-width="1.43"/>
<polygon points="971.50,767.90 973.90,779.90 969.10,779.90" fill="#26292e"/>
<polygon points="971.50,890.40 969.10,878.40 973.90,878.40" fill="#26292e"/>
<text x="969.70" y="828.80" font-family="&quot;Liberation Serif&quot;, serif" font-size="24.40" text-anchor="middle" fill="#2c2f34" textLength="33.86" lengthAdjust="spacingAndGlyphs" transform="rotate(-90 969.70 828.80)">600</text>
<path d="M601,776 C606,788 611,803 614.5,813 C619,828 624,840 631,848.5 C640,856 650,859.5 670,860.8 Q700,862 761,863.4 L840,863.2 C855,862 866,860.5 872,858.8 C885,855 893,846 899,833 C906,815 911,795 914.5,788 Q917.5,780 921.6,775.4" stroke="#55585e" stroke-width="1.43" fill="none"/>
<path d="M651,857.5 L651,862 C670,865 690,866.4 720,866.4 L850,866.3 C860,865.6 866,864.6 870.5,863.3 L871.3,859.2" stroke="#55585e" stroke-width="1.43" fill="none"/>
<path d="M606.89,806.32 L607.10,806.92 L607.30,807.51 L607.51,808.10 L607.71,808.68 L607.91,809.25 L608.10,809.82 L608.30,810.39 L608.49,810.94 L608.68,811.50 L608.87,812.04 L609.06,812.58 L609.24,813.11 L609.42,813.63 L609.60,814.14 L609.78,814.65 L609.71,814.44 L609.94,815.20 L610.17,815.95 L610.40,816.71 L610.64,817.45 L610.87,818.20 L611.11,818.94 L611.34,819.67 L611.58,820.40 L611.82,821.12 L612.06,821.84 L612.30,822.56 L612.55,823.27 L612.79,823.97 L613.04,824.68 L613.29,825.37 L613.54,826.06 L613.79,826.75 L614.04,827.43 L614.30,828.11 L614.56,828.78 L614.82,829.45 L615.08,830.11 L615.34,830.77 L615.61,831.43 L615.88,832.08 L616.15,832.72 L616.42,833.36 L616.70,833.99 L616.98,834.62 L617.26,835.25 L617.54,835.87 L617.83,836.48 L618.11,837.10 L618.41,837.70 L618.70,838.30 L619.00,838.90 L619.30,839.49 L619.60,840.07 L619.90,840.66 L620.21,841.23 L620.53,841.80 L620.84,842.37 L621.16,842.93 L621.48,843.49 L621.81,844.04 L622.14,844.58 L622.47,845.12 L622.80,845.66 L623.14,846.19 L623.49,846.72 L623.83,847.24 L624.19,847.75 L624.54,848.26 L624.90,848.77 L625.26,849.26 L625.63,849.76 L626.00,850.25 L626.38,850.73 L626.76,851.21 L627.12,851.66 L627.59,852.16 L627.75,852.31 L627.91,852.46 L628.08,852.61 L628.24,852.76 L628.41,852.91 L628.57,853.05 L628.74,853.20 L628.90,853.34 L629.07,853.49 L629.23,853.63 L629.40,853.78 L629.57,853.92 L629.73,854.06 L629.90,854.20 L630.07,854.34 L630.24,854.48 L630.40,854.62 L630.57,854.75 L630.74,854.89 L630.91,855.03 L631.08,855.16 L631.25,855.29 L631.43,855.43 L631.60,855.56 L631.77,855.69 L631.94,855.82 L632.12,855.95 L632.29,856.08 L632.47,856.21 L632.64,856.33 L632.82,856.46 L632.99,856.58 L633.17,856.71 L633.35,856.83 L633.53,856.95 L633.71,857.08 L633.89,857.20 L634.07,857.32 L634.25,857.44 L634.43,857.55 L634.61,857.67 L634.79,857.79 L634.98,857.90 L635.16,858.02 L635.35,858.13 L635.53,858.25 L635.72,858.36 L635.91,858.47 L636.09,858.58 L636.28,858.69 L636.47,858.80 L636.66,858.91 L636.85,859.02 L637.05,859.12 L637.24,859.23 L637.43,859.33 L637.63,859.44 L637.82,859.54 L638.02,859.64 L638.20,859.74 L638.81,860.09 L639.43,860.46 L640.07,860.84 L640.72,861.24 L641.38,861.66 L642.07,862.09 L642.76,862.54 L643.48,862.99 L644.21,863.46 L644.95,863.93 L645.71,864.41 L646.49,864.89 L647.29,865.38 L648.10,865.87 L648.93,866.36 L649.78,866.85 L650.64,867.34 L651.53,867.82 L652.43,868.30 L653.35,868.77 L654.29,869.23 L655.25,869.69 L656.23,870.13 L657.22,870.56 L658.24,870.97 L659.28,871.37 L660.33,871.75 L661.41,872.12 L662.51,872.46 L663.63,872.78 L664.76,873.08 L665.93,873.36 L667.11,873.61 L668.31,873.83 L669.54,874.02 L670.78,874.18 L672.05,874.31 L673.35,874.41 L674.66,874.47 L676.00,874.50 L700.00,874.60 L751.00,874.80" stroke="#26292e" stroke-width="7.0" fill="none" stroke-linejoin="round"/>
<path d="M606.89,806.32 L607.10,806.92 L607.30,807.51 L607.51,808.10 L607.71,808.68 L607.91,809.25 L608.10,809.82 L608.30,810.39 L608.49,810.94 L608.68,811.50 L608.87,812.04 L609.06,812.58 L609.24,813.11 L609.42,813.63 L609.60,814.14 L609.78,814.65 L609.71,814.44 L609.94,815.20 L610.17,815.95 L610.40,816.71 L610.64,817.45 L610.87,818.20 L611.11,818.94 L611.34,819.67 L611.58,820.40 L611.82,821.12 L612.06,821.84 L612.30,822.56 L612.55,823.27 L612.79,823.97 L613.04,824.68 L613.29,825.37 L613.54,826.06 L613.79,826.75 L614.04,827.43 L614.30,828.11 L614.56,828.78 L614.82,829.45 L615.08,830.11 L615.34,830.77 L615.61,831.43 L615.88,832.08 L616.15,832.72 L616.42,833.36 L616.70,833.99 L616.98,834.62 L617.26,835.25 L617.54,835.87 L617.83,836.48 L618.11,837.10 L618.41,837.70 L618.70,838.30 L619.00,838.90 L619.30,839.49 L619.60,840.07 L619.90,840.66 L620.21,841.23 L620.53,841.80 L620.84,842.37 L621.16,842.93 L621.48,843.49 L621.81,844.04 L622.14,844.58 L622.47,845.12 L622.80,845.66 L623.14,846.19 L623.49,846.72 L623.83,847.24 L624.19,847.75 L624.54,848.26 L624.90,848.77 L625.26,849.26 L625.63,849.76 L626.00,850.25 L626.38,850.73 L626.76,851.21 L627.12,851.66 L627.59,852.16 L627.75,852.31 L627.91,852.46 L628.08,852.61 L628.24,852.76 L628.41,852.91 L628.57,853.05 L628.74,853.20 L628.90,853.34 L629.07,853.49 L629.23,853.63 L629.40,853.78 L629.57,853.92 L629.73,854.06 L629.90,854.20 L630.07,854.34 L630.24,854.48 L630.40,854.62 L630.57,854.75 L630.74,854.89 L630.91,855.03 L631.08,855.16 L631.25,855.29 L631.43,855.43 L631.60,855.56 L631.77,855.69 L631.94,855.82 L632.12,855.95 L632.29,856.08 L632.47,856.21 L632.64,856.33 L632.82,856.46 L632.99,856.58 L633.17,856.71 L633.35,856.83 L633.53,856.95 L633.71,857.08 L633.89,857.20 L634.07,857.32 L634.25,857.44 L634.43,857.55 L634.61,857.67 L634.79,857.79 L634.98,857.90 L635.16,858.02 L635.35,858.13 L635.53,858.25 L635.72,858.36 L635.91,858.47 L636.09,858.58 L636.28,858.69 L636.47,858.80 L636.66,858.91 L636.85,859.02 L637.05,859.12 L637.24,859.23 L637.43,859.33 L637.63,859.44 L637.82,859.54 L638.02,859.64 L638.20,859.74 L638.81,860.09 L639.43,860.46 L640.07,860.84 L640.72,861.24 L641.38,861.66 L642.07,862.09 L642.76,862.54 L643.48,862.99 L644.21,863.46 L644.95,863.93 L645.71,864.41 L646.49,864.89 L647.29,865.38 L648.10,865.87 L648.93,866.36 L649.78,866.85 L650.64,867.34 L651.53,867.82 L652.43,868.30 L653.35,868.77 L654.29,869.23 L655.25,869.69 L656.23,870.13 L657.22,870.56 L658.24,870.97 L659.28,871.37 L660.33,871.75 L661.41,872.12 L662.51,872.46 L663.63,872.78 L664.76,873.08 L665.93,873.36 L667.11,873.61 L668.31,873.83 L669.54,874.02 L670.78,874.18 L672.05,874.31 L673.35,874.41 L674.66,874.47 L676.00,874.50 L700.00,874.60 L751.00,874.80" stroke="#fff" stroke-width="4.8" fill="none" stroke-linejoin="round"/>
<path d="M604.31,808.96 L610.55,806.80 M605.39,812.08 L611.63,809.92 M606.48,815.21 L612.71,813.03 M607.30,817.84 L613.60,815.87 M608.31,821.02 L614.59,818.97 M609.38,824.20 L615.62,822.06 M610.50,827.38 L616.70,825.10 M611.69,830.52 L617.84,828.13 M612.97,833.66 L619.05,831.10 M614.33,836.78 L620.33,834.04 M615.79,839.86 L621.70,836.92 M617.37,842.90 L623.16,839.74 M619.07,845.89 L624.72,842.48 M620.91,848.81 L626.40,845.14 M622.91,851.64 L628.21,847.70 M625.41,854.63 L629.90,849.80 M628.03,856.94 L632.23,851.85 M630.82,859.09 L634.67,853.73 M633.78,861.04 L637.22,855.41 M636.74,862.70 L640.02,856.98 M639.45,864.34 L642.95,858.75 M642.21,866.10 L645.76,860.54 M645.06,867.89 L648.51,862.26 M647.97,869.62 L651.27,863.90 M651.01,871.28 L654.02,865.40 M654.12,872.80 L656.84,866.78 M657.33,874.16 L659.70,868.00 M660.64,875.33 L662.61,869.04 M664.04,876.30 L665.56,869.88 M667.43,877.02 L668.62,870.53 M670.95,877.52 L671.63,870.95 M674.42,877.77 L674.74,871.17 M677.87,877.81 L677.89,871.21 M681.17,877.82 L681.19,871.22 M684.47,877.84 L684.49,871.24 M687.77,877.85 L687.79,871.25 M691.07,877.86 L691.09,871.26 M694.37,877.88 L694.39,871.28 M697.67,877.89 L697.69,871.29 M700.97,877.90 L700.99,871.30 M704.27,877.92 L704.29,871.32 M707.57,877.93 L707.59,871.33 M710.87,877.94 L710.89,871.34 M714.17,877.96 L714.19,871.36 M717.47,877.97 L717.49,871.37 M720.77,877.98 L720.79,871.38 M724.07,877.99 L724.09,871.39 M727.37,878.01 L727.39,871.41 M730.67,878.02 L730.69,871.42 M733.97,878.03 L733.99,871.43 M737.27,878.05 L737.29,871.45 M740.57,878.06 L740.59,871.46 M743.87,878.07 L743.89,871.47 M747.17,878.08 L747.19,871.49 M750.47,878.10 L750.49,871.50" stroke="#26292e" stroke-width="2.0" fill="none"/>
<path d="M595.8,782 L602.3,779.5 L608.3,796.5 L601.3,799 Z" stroke="#26292e" stroke-width="1.30" fill="#fff"/>
<line x1="597.50" y1="788.50" x2="604.50" y2="786.00" stroke="#26292e" stroke-width="1.17"/>
<line x1="599.50" y1="794.50" x2="606.50" y2="792.00" stroke="#26292e" stroke-width="1.17"/>
<path d="M599,797.8 L607.5,795.2 L612.5,810.5 L604,813 Z" stroke="#26292e" stroke-width="1.30" fill="#26292e"/>
<rect x="750" y="871" width="6.8" height="7" fill="#26292e"/>
<rect x="756.8" y="871.3" width="9" height="7" fill="#fff" stroke="#55585e" stroke-width="1.43"/>
<rect x="758.4" y="878.3" width="6" height="5.8" fill="#fff" stroke="#55585e" stroke-width="1.43"/>
<line x1="766.00" y1="878.00" x2="770.00" y2="878.00" stroke="#55585e" stroke-width="1.17"/>
<line x1="760.80" y1="756.00" x2="760.80" y2="888.00" stroke="#55585e" stroke-width="1.43"/>
<line x1="761.60" y1="767.20" x2="792.50" y2="755.20" stroke="#55585e" stroke-width="1.43"/>
<line x1="761.60" y1="863.20" x2="792.50" y2="851.20" stroke="#55585e" stroke-width="1.43"/>
<line x1="785.90" y1="756.80" x2="785.90" y2="854.40" stroke="#55585e" stroke-width="1.43"/>
<polygon points="785.90,757.40 788.30,769.40 783.50,769.40" fill="#26292e"/>
<polygon points="785.90,853.80 783.50,841.80 788.30,841.80" fill="#26292e"/>
<text x="783.90" y="807.80" font-family="&quot;Liberation Serif&quot;, serif" font-size="23.96" text-anchor="middle" fill="#2c2f34" textLength="33.22" lengthAdjust="spacingAndGlyphs" transform="rotate(-90 783.90 807.80)">510</text>
<line x1="672.00" y1="872.20" x2="850.40" y2="872.20" stroke="#55585e" stroke-width="1.43"/>
<line x1="850.40" y1="866.60" x2="850.40" y2="872.20" stroke="#55585e" stroke-width="1.43"/>
<path d="M842.4,865.6 L850.4,865.6" stroke="#26292e" stroke-width="2.86" fill="none"/>
<rect x="698.60" y="866.60" width="7.70" height="5.60" fill="#fff" stroke="#55585e" stroke-width="1.43"/>
<path d="M700.10,867.80 L704.80,871.00 M704.80,867.80 L700.10,871.00" stroke="#777" stroke-width="0.91" fill="none"/>
<rect x="814.00" y="866.60" width="10.00" height="5.60" fill="#fff" stroke="#55585e" stroke-width="1.43"/>
<path d="M815.50,867.80 L822.50,871.00 M822.50,867.80 L815.50,871.00" stroke="#777" stroke-width="0.91" fill="none"/>
<rect x="683.80" y="871.50" width="6.0" height="4.8" rx="1.2" fill="#26292e"/>
<path d="M684.80,875.50 L688.80,875.50 L688.40,879.50 L689.20,885.00 L684.40,885.00 L685.20,879.50 Z" fill="#26292e"/>
<rect x="680.90" y="884.70" width="11.8" height="6.2" rx="3.1" fill="#45484d" stroke="#26292e" stroke-width="1"/>
<rect x="699.00" y="871.50" width="6.0" height="4.8" rx="1.2" fill="#26292e"/>
<path d="M700.00,875.50 L704.00,875.50 L703.60,879.50 L704.40,885.00 L699.60,885.00 L700.40,879.50 Z" fill="#26292e"/>
<rect x="696.10" y="884.70" width="11.8" height="6.2" rx="3.1" fill="#45484d" stroke="#26292e" stroke-width="1"/>
<rect x="816.20" y="871.50" width="6.0" height="4.8" rx="1.2" fill="#26292e"/>
<path d="M817.20,875.50 L821.20,875.50 L820.80,879.50 L821.60,885.00 L816.80,885.00 L817.60,879.50 Z" fill="#26292e"/>
<rect x="813.30" y="884.70" width="11.8" height="6.2" rx="3.1" fill="#45484d" stroke="#26292e" stroke-width="1"/>
<rect x="831.50" y="871.50" width="6.0" height="4.8" rx="1.2" fill="#26292e"/>
<path d="M832.50,875.50 L836.50,875.50 L836.10,879.50 L836.90,885.00 L832.10,885.00 L832.90,879.50 Z" fill="#26292e"/>
<rect x="828.60" y="884.70" width="11.8" height="6.2" rx="3.1" fill="#45484d" stroke="#26292e" stroke-width="1"/>
<line x1="687.00" y1="890.00" x2="687.00" y2="953.00" stroke="#55585e" stroke-width="1.56"/>
<line x1="701.60" y1="890.00" x2="701.60" y2="953.00" stroke="#55585e" stroke-width="1.56"/>
<line x1="819.40" y1="890.00" x2="819.40" y2="953.00" stroke="#55585e" stroke-width="1.56"/>
<line x1="834.40" y1="890.00" x2="834.40" y2="953.00" stroke="#55585e" stroke-width="1.56"/>
<line x1="587.00" y1="949.00" x2="687.00" y2="949.00" stroke="#55585e" stroke-width="1.56"/>
<polygon points="587.00,949.00 599.00,946.60 599.00,951.40" fill="#26292e"/>
<polygon points="687.00,949.00 675.00,951.40 675.00,946.60" fill="#26292e"/>
<line x1="701.60" y1="949.00" x2="819.40" y2="949.00" stroke="#55585e" stroke-width="1.56"/>
<polygon points="701.60,949.00 713.60,946.60 713.60,951.40" fill="#26292e"/>
<polygon points="819.40,949.00 807.40,951.40 807.40,946.60" fill="#26292e"/>
<line x1="834.40" y1="949.00" x2="935.40" y2="949.00" stroke="#55585e" stroke-width="1.56"/>
<polygon points="834.40,949.00 846.40,946.60 846.40,951.40" fill="#26292e"/>
<polygon points="935.40,949.00 923.40,951.40 923.40,946.60" fill="#26292e"/>
<text x="637.00" y="947.20" font-family="&quot;Liberation Serif&quot;, serif" font-size="23.64" text-anchor="middle" fill="#2c2f34" textLength="33.12" lengthAdjust="spacingAndGlyphs">490</text>
<text x="760.50" y="947.20" font-family="&quot;Liberation Serif&quot;, serif" font-size="23.64" text-anchor="middle" fill="#2c2f34" textLength="33.12" lengthAdjust="spacingAndGlyphs">570</text>
<text x="884.90" y="947.20" font-family="&quot;Liberation Serif&quot;, serif" font-size="23.64" text-anchor="middle" fill="#2c2f34" textLength="33.12" lengthAdjust="spacingAndGlyphs">490</text>
<line x1="665.00" y1="915.60" x2="749.00" y2="915.60" stroke="#55585e" stroke-width="1.56"/>
<polygon points="687.00,915.60 675.00,918.00 675.00,913.20" fill="#26292e"/>
<polygon points="701.60,915.60 713.60,913.20 713.60,918.00" fill="#26292e"/>
<line x1="797.00" y1="915.60" x2="881.00" y2="915.60" stroke="#55585e" stroke-width="1.56"/>
<polygon points="819.40,915.60 807.40,918.00 807.40,913.20" fill="#26292e"/>
<polygon points="834.40,915.60 846.40,913.20 846.40,918.00" fill="#26292e"/>
<text x="736.50" y="913.80" font-family="&quot;Liberation Serif&quot;, serif" font-size="23.11" text-anchor="middle" fill="#2c2f34" textLength="21.58" lengthAdjust="spacingAndGlyphs">75</text>
<text x="868.20" y="913.80" font-family="&quot;Liberation Serif&quot;, serif" font-size="23.11" text-anchor="middle" fill="#2c2f34" textLength="21.58" lengthAdjust="spacingAndGlyphs">75</text>
</svg>
</body></html>
